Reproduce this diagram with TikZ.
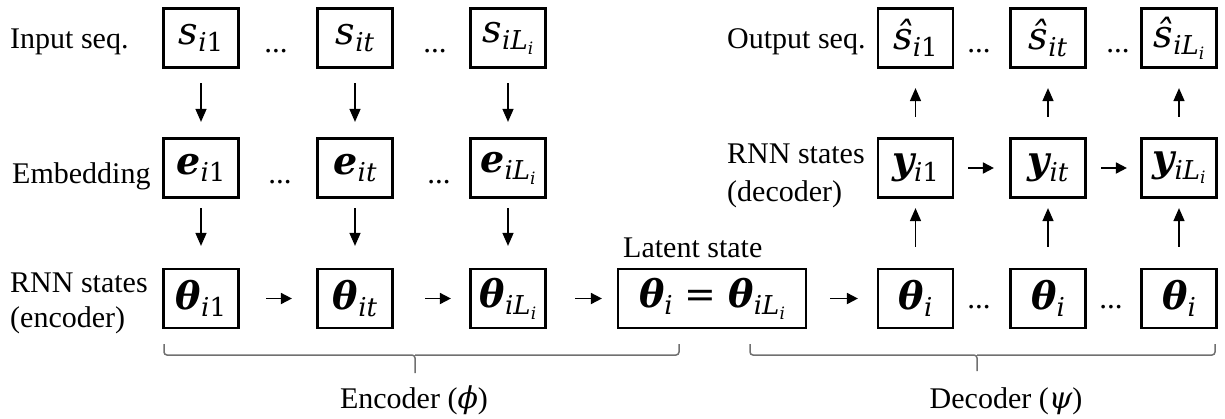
\documentclass[tikz,border=0pt]{standalone}
\usepackage{fontspec}
\setmainfont{Liberation Serif}
\newfontfamily\mf{DejaVu Serif}
\usetikzlibrary{arrows.meta}
\definecolor{bracegray}{RGB}{112,112,112}
\newcommand{\ital}[1]{{\itshape #1}}
\newcommand{\boldit}[1]{{\bfseries\itshape #1}}
\newcommand{\suba}[1]{\raisebox{-7.5pt}{\fontsize{26}{26}\selectfont\mf #1}}
\newcommand{\subb}[1]{\raisebox{-4.5pt}{\fontsize{17}{17}\selectfont\mf #1}}
\begin{document}
\begin{tikzpicture}[x=1pt,y=-1pt,
  box/.style={draw, line width=2.2pt, minimum width=75pt, minimum height=59pt, inner sep=0pt, font=\fontsize{38}{42}\selectfont\mf},
  lbl/.style={inner sep=0pt, anchor=base west, font=\fontsize{30}{34}\selectfont},
  ctr/.style={inner sep=0pt, anchor=base, font=\fontsize{30}{34}\selectfont},
  dotsn/.style={inner sep=0pt, anchor=base, font=\fontsize{31}{34}\selectfont},
  varr/.style={line width=1.4pt, -{Triangle[length=13pt,width=11pt]}},
  harr/.style={line width=1.8pt, -{Triangle[length=11pt,width=11pt]}},
  brc/.style={draw=bracegray, line width=1.5pt, rounded corners=3pt}
]
\useasboundingbox (0,0) rectangle (1225,418);

% left labels
\node[lbl] (linput) at (10,48) {Input seq.};
\node[lbl] (lemb) at (12,183) {Embedding};
\node[lbl] (lrnn1) at (10,292) {RNN states};
\node[lbl] (lrnn2) at (10,327) {(encoder)};
\node[lbl] (lout) at (727,48) {Output seq.};
\node[lbl] (ldec1) at (727,163) {RNN states};
\node[lbl] (ldec2) at (727,201) {(decoder)};
\node[lbl] (llat) at (623,257) {Latent state};

% encoder boxes
\node[box] (s1) at (201,38) {\ital{s}\suba{\ital{i}1}};
\node[box] (st) at (355,38) {\ital{s}\suba{\ital{it}}};
\node[box] (sL) at (508,38) {\ital{s}\suba{\ital{iL}\subb{\ital{i}}}};
\node[box] (e1) at (201,168) {\boldit{e}\suba{\ital{i}1}};
\node[box] (et) at (355,168) {\boldit{e}\suba{\ital{it}}};
\node[box] (eL) at (508,168) {\boldit{e}\suba{\ital{iL}\subb{\ital{i}}}};
\node[box] (th1) at (201,298.5) {\boldit{θ}\suba{\ital{i}1}};
\node[box] (tht) at (355,298.5) {\boldit{θ}\suba{\ital{it}}};
\node[box] (thL) at (508,298.5) {\boldit{θ}\suba{\ital{iL}\subb{\ital{i}}}};
\node[box, minimum width=188pt] (lat) at (712,298.5) {\boldit{θ}\suba{\ital{i}}\hspace{12pt}=\hspace{12pt}\boldit{θ}\suba{\ital{iL}\subb{\ital{i}}}};

% decoder boxes
\node[box] (d1) at (915.5,298.5) {\boldit{θ}\suba{\ital{i}}};
\node[box] (d2) at (1048,298.5) {\boldit{θ}\suba{\ital{i}}};
\node[box] (d3) at (1179,298.5) {\boldit{θ}\suba{\ital{i}}};
\node[box] (y1) at (915.5,168) {\boldit{y}\suba{\ital{i}1}};
\node[box] (yt) at (1048,168) {\boldit{y}\suba{\ital{it}}};
\node[box] (yL) at (1179,168) {\boldit{y}\suba{\ital{iL}\subb{\ital{i}}}};
\node[box] (o1) at (915.5,38) {\ital{ŝ}\suba{\ital{i}1}};
\node[box] (ot) at (1048,38) {\ital{ŝ}\suba{\ital{it}}};
\node[box] (oL) at (1179,38) {\ital{ŝ}\suba{\ital{iL}\subb{\ital{i}}}};

% dots
\node[dotsn] (dt1) at (276,52) {...};
\node[dotsn] (dt2) at (435,52) {...};
\node[dotsn] (dt3) at (280,183) {...};
\node[dotsn] (dt4) at (439,183) {...};
\node[dotsn] (dt5) at (979,52) {...};
\node[dotsn] (dt6) at (1118,52) {...};
\node[dotsn] (dt7) at (979,308) {...};
\node[dotsn] (dt8) at (1111,308) {...};

% vertical arrows encoder
\foreach \a/\b in {s1/e1, st/et, sL/eL}
  \draw[varr, shorten <=14.5pt, shorten >=15.5pt] (\a) -- (\b);
\foreach \a/\b in {e1/th1, et/tht, eL/thL}
  \draw[varr, shorten <=9.5pt, shorten >=22pt] (\a) -- (\b);
% vertical arrows decoder
\foreach \a/\b in {d1/y1, d2/yt, d3/yL}
  \draw[varr, shorten <=21pt, shorten >=9.5pt] (\a) -- (\b);
\foreach \a/\b in {y1/o1, yt/ot, yL/oL}
  \draw[varr, shorten <=20.5pt, shorten >=19.5pt] (\a) -- (\b);

% horizontal arrows
\draw[harr, shorten <=26.5pt, shorten >=24.5pt] (th1) -- (tht);
\draw[harr, shorten <=31.5pt, shorten >=18.5pt] (tht) -- (thL);
\draw[harr, shorten <=28.5pt, shorten >=15pt] (thL) -- (lat);
\draw[harr, shorten <=23pt, shorten >=19pt] (lat) -- (d1);
\draw[harr, shorten <=14pt, shorten >=15.5pt] (y1) -- (yt);
\draw[harr, shorten <=14.5pt, shorten >=13.5pt] (yt) -- (yL);

% braces
\draw[brc] (164,344) |- (415,355) -- (415,373);
\draw[brc] (679,344) |- (415,355);
\draw[brc] (750,344) |- (977,355) -- (977,371);
\draw[brc] (1215,344) |- (977,355);

% brace labels
\node[ctr] (lenc) at (414,408) {Encoder ({\mf\itshape ϕ})};
\node[ctr] (ldecd) at (1006,408) {Decoder ({\mf\itshape ψ})};
\end{tikzpicture}
\end{document}
